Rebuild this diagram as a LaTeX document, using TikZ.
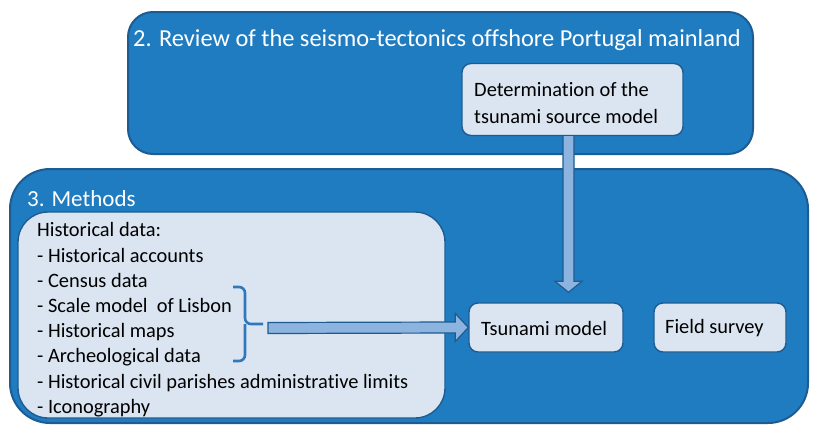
\documentclass[tikz,border=0pt]{standalone}
\usepackage{fontspec}
\setmainfont{Carlito}[Ligatures=NoCommon]
\usetikzlibrary{calc}
\definecolor{darkb}{HTML}{1D5C92}
\definecolor{midb}{HTML}{1F7CC1}
\definecolor{lightb}{HTML}{DAE5F1}
\definecolor{arrowb}{HTML}{8CB4DE}
\definecolor{braceb}{HTML}{2F78BC}
\begin{document}
\begin{tikzpicture}[x=1pt,y=-1pt,
  bigbox/.style={draw=darkb, line width=2pt, fill=midb},
  lightbox/.style={draw=darkb, line width=1.4pt, fill=lightb},
  smallbox/.style={lightbox, rounded corners=9pt},
  title/.style={text=white, inner sep=0pt, anchor=west},
  body/.style={font=\fontsize{20.4}{25.2}\selectfont, inner sep=0pt, align=left, text=black},
  blockarrow/.style={draw=darkb, line width=1.2pt, fill=arrowb, line join=miter},
  bracestyle/.style={draw=braceb, line width=2.6pt, rounded corners=6pt}]
\useasboundingbox (0,0) rectangle (814,426);
% box 2
\node[bigbox, rounded corners=25pt, minimum width=625pt, minimum height=142pt] (b2) at (440.5,83) {};
\node[title, font=\fontsize{24.4}{28}\selectfont] (t2) at (133,40) {2. Review of the seismo-tectonics offshore Portugal mainland};
\node[smallbox, minimum width=221pt, minimum height=72pt] (src) at (572.5,99.5) {};
\node[body, anchor=west] (srctext) at (474,103) {Determination of the\\[1.5pt]tsunami source model};
% box 3
\node[bigbox, rounded corners=40pt, minimum width=798pt, minimum height=254pt] (b3) at (409,296) {};
\node[title, font=\fontsize{23}{27}\selectfont] (t3) at (27,199) {3. Methods};
\node[lightbox, rounded corners=30pt, minimum width=427pt, minimum height=206pt] (hist) at (231.5,315) {};
\node[body, anchor=north west] (histtext) at (37,222.5) {Historical data:\\
- Historical accounts\\
- Census data\\
- Scale model\ \ of Lisbon\\
- Historical maps\\
- Archeological data\\
- Historical civil parishes administrative limits\\
- Iconography};
\node[smallbox, minimum width=154pt, minimum height=49pt] (tsu) at (546,327.5) {};
\node[body, anchor=west] (tsutext) at (481,328) {Tsunami model};
\node[smallbox, minimum width=132pt, minimum height=49pt] (field) at (720,327.5) {};
\node[body, anchor=west] (fieldtext) at (665,328) {Field survey};
% brace
\coordinate (brtop) at (233,287);
\coordinate (brbot) at (233,361);
\coordinate (brmid) at (263,324);
\draw[bracestyle] (brtop) -- (245,287) -- (245,324) -- (brmid);
\draw[bracestyle] (brbot) -- (245,361) -- (245,324);
% vertical arrow: src -> tsu
\coordinate (va) at ($(src.south)+(-4,0)$);
\coordinate (vt) at ($(tsu.north)+(22.5,-10)$);
\draw[blockarrow] ($(va)+(-5.5,0)$) -- ($(vt)+(-5.5,-11)$) -- ($(vt)+(-13.5,-11)$) -- (vt)
  -- ($(vt)+(13.5,-11)$) -- ($(vt)+(5.5,-11)$) -- ($(va)+(5.5,0)$);
% horizontal arrow: brace -> tsu
\coordinate (ha) at ($(brmid)+(5,4)$);
\coordinate (ht) at ($(tsu.west)+(0,0)$);
\draw[blockarrow] ($(ha)+(0,-5.5)$) -- ($(ht)+(-13,-5.5)$) -- ($(ht)+(-13,-14)$) -- (ht)
  -- ($(ht)+(-13,14)$) -- ($(ht)+(-13,5.5)$) -- ($(ha)+(0,5.5)$) -- cycle;
\end{tikzpicture}
\end{document}
